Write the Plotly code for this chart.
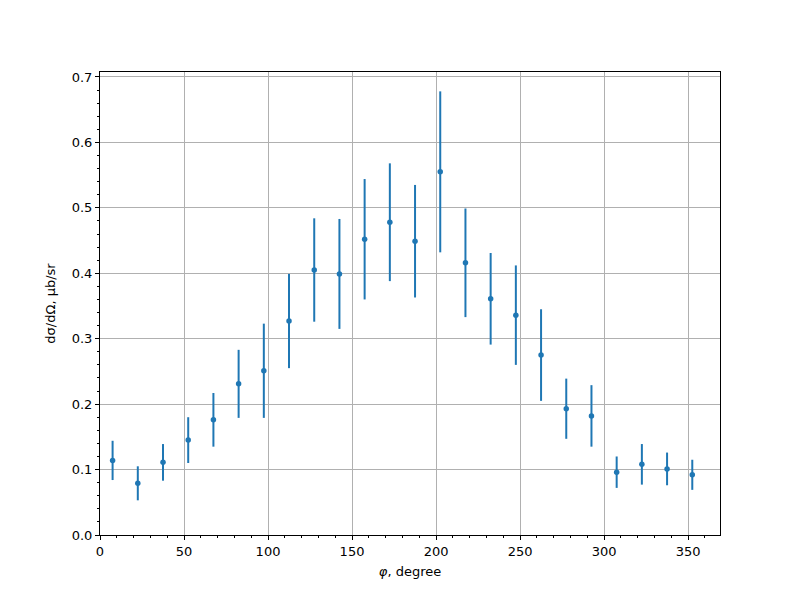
import plotly.graph_objects as go

phi = [7.5, 22.5, 37.5, 52.5, 67.5, 82.5, 97.5, 112.5, 127.5, 142.5, 157.5, 172.5,
       187.5, 202.5, 217.5, 232.5, 247.5, 262.5, 277.5, 292.5, 307.5, 322.5, 337.5, 352.5]
xsec = [0.114, 0.079, 0.111, 0.145, 0.176, 0.231, 0.251, 0.327, 0.405, 0.399, 0.452, 0.478,
        0.449, 0.555, 0.416, 0.361, 0.336, 0.275, 0.193, 0.182, 0.096, 0.108, 0.101, 0.092]
err = [0.030, 0.026, 0.028, 0.035, 0.041, 0.052, 0.072, 0.072, 0.079, 0.084, 0.092, 0.090,
       0.086, 0.123, 0.083, 0.070, 0.076, 0.070, 0.046, 0.047, 0.024, 0.031, 0.025, 0.023]

color = "#1f77b4"
fig = go.Figure(go.Scatter(
    x=phi, y=xsec, mode="markers",
    marker=dict(color=color, size=5.5),
    error_y=dict(type="data", array=err, visible=True, color=color, thickness=2, width=0),
))

axis_common = dict(
    showline=True, linecolor="black", linewidth=1, mirror=True,
    showgrid=True, gridcolor="#b0b0b0", gridwidth=1,
    ticks="outside", ticklen=4, tickcolor="black",
    tickfont=dict(family="DejaVu Sans", size=13, color="black"),
    zeroline=False,
)
fig.update_layout(
    width=800, height=600,
    paper_bgcolor="white", plot_bgcolor="white",
    margin=dict(l=92, r=88, t=64, b=73),
    showlegend=False,
    font=dict(family="DejaVu Sans", size=13, color="black"),
    xaxis=dict(range=[0, 369], dtick=50, tick0=0,
               minor=dict(dtick=10, ticks="outside", ticklen=2, tickcolor="black", showgrid=False),
               title=dict(text="<i>φ</i>, degree", standoff=9, font=dict(size=13)),
               **axis_common),
    yaxis=dict(range=[0, 0.7076], dtick=0.1, tick0=0, tickformat=".1f",
               minor=dict(dtick=0.02, ticks="outside", ticklen=2, tickcolor="black", showgrid=False),
               title=dict(text="dσ/dΩ, μb/sr", standoff=13, font=dict(size=13)),
               **axis_common),
)
fig.write_html("out.html")
